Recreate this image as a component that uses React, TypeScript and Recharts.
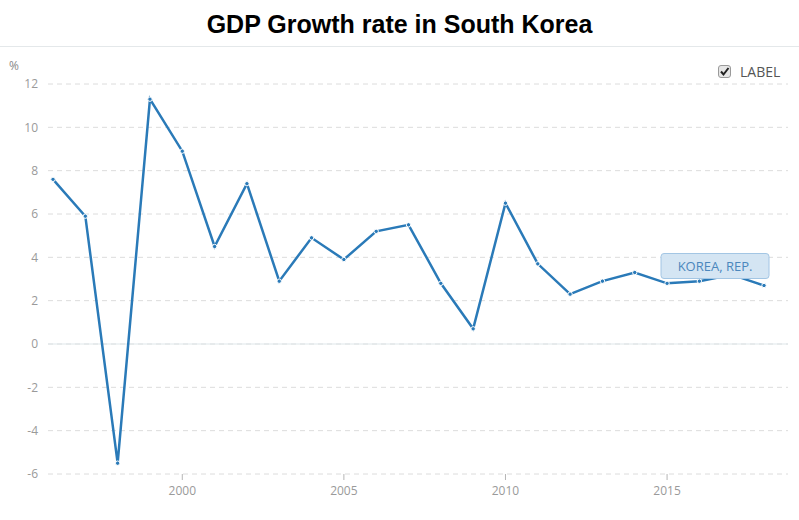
import React from "react";
import { LineChart, Line, XAxis, YAxis, CartesianGrid, ReferenceLine, LabelList } from "recharts";

const years = [1996, 1997, 1998, 1999, 2000, 2001, 2002, 2003, 2004, 2005, 2006, 2007, 2008, 2009, 2010, 2011, 2012, 2013, 2014, 2015, 2016, 2017, 2018];
const growth = [7.6, 5.9, -5.5, 11.3, 8.9, 4.5, 7.4, 2.9, 4.9, 3.9, 5.2, 5.5, 2.8, 0.7, 6.5, 3.7, 2.3, 2.9, 3.3, 2.8, 2.9, 3.2, 2.7];
const xTicks = [2000, 2005, 2010, 2015];
const yTicks = [-6, -4, -2, 0, 2, 4, 6, 8, 10, 12];
const seriesName = "KOREA, REP.";
const title = "GDP Growth rate in South Korea";

const data = years.map((y, i) => ({ year: y, value: growth[i] }));

const LINE = "#2a7ab8";
const FONT = "'Open Sans', 'Noto Sans', sans-serif";

const EndLabel = (props: any) => {
  const { x, y, index } = props;
  if (index !== data.length - 1) return null;
  const w = 108;
  const h = 25;
  const bx = x - 103;
  const by = y - 32;
  return (
    <g>
      <rect x={bx} y={by} width={w} height={h} rx={3} ry={3} fill="#d4e5f3" stroke="#a3c6e4" strokeWidth={1} />
      <text x={bx + w / 2} y={by + h / 2 + 4.5} textAnchor="middle" fontSize={13} fill="#4b87bd" fontFamily={FONT}>
        {seriesName}
      </text>
    </g>
  );
};

export default function App() {
  return (
    <div style={{ position: "absolute", left: 0, top: 0, width: 799, height: 520, background: "#fff", overflow: "hidden" }}>
      <div
        style={{
          position: "absolute",
          left: 0,
          top: 9,
          width: 799,
          textAlign: "center",
          fontFamily: "'Liberation Sans', Arial, sans-serif",
          fontWeight: "bold",
          fontSize: 25,
          lineHeight: "30px",
          color: "#000",
        }}
      >
        {title}
      </div>
      <div style={{ position: "absolute", left: 0, top: 46, width: 799, height: 1, background: "#e4e8ea" }} />
      <div style={{ position: "absolute", left: 9, top: 57, fontFamily: FONT, fontSize: 12, color: "#8a8a8a" }}>%</div>
      <div style={{ position: "absolute", left: 718, top: 65, width: 13, height: 13, boxSizing: "border-box", border: "1px solid #9a9a9a", borderRadius: 3, background: "#e6e6e6" }}>
        <svg width={11} height={11} style={{ position: "absolute", left: 0, top: 0 }}>
          <path d="M2 5.5 L4.5 8.5 L9.5 2" fill="none" stroke="#222" strokeWidth={2} />
        </svg>
      </div>
      <div style={{ position: "absolute", left: 740, top: 63, fontFamily: FONT, fontSize: 14, color: "#555", lineHeight: "18px" }}>LABEL</div>
      <div style={{ position: "absolute", left: 0, top: 0 }}>
        <LineChart width={799} height={520} data={data} margin={{ top: 84, right: 11, bottom: 0, left: 0 }}>
          <CartesianGrid vertical={false} stroke="#dcdcdc" strokeDasharray="5 4" horizontalValues={yTicks} />
          <ReferenceLine y={0} stroke="#dfe7ea" strokeWidth={1} />
          <XAxis
            dataKey="year"
            type="number"
            domain={[1995.845, 2018.742]}
            ticks={xTicks}
            allowDataOverflow
            axisLine={false}
            tickLine={{ stroke: "#b5b5b5" }}
            tickSize={6}
            tickMargin={6}
            height={46}
            tick={{ fill: "#9a9a9a", fontSize: 12, fontFamily: FONT }}
          />
          <YAxis
            type="number"
            domain={[-6, 12]}
            ticks={yTicks}
            axisLine={false}
            tickLine={false}
            tickSize={0}
            tickMargin={10}
            width={48}
            tick={{ fill: "#9a9a9a", fontSize: 12, fontFamily: FONT }}
          />
          <Line
            type="linear"
            dataKey="value"
            stroke={LINE}
            strokeWidth={2.5}
            dot={{ r: 2.2, fill: LINE, stroke: "#fff", strokeWidth: 1 }}
            activeDot={false}
            isAnimationActive={false}
          >
            <LabelList dataKey="value" content={<EndLabel />} />
          </Line>
        </LineChart>
      </div>
    </div>
  );
}
